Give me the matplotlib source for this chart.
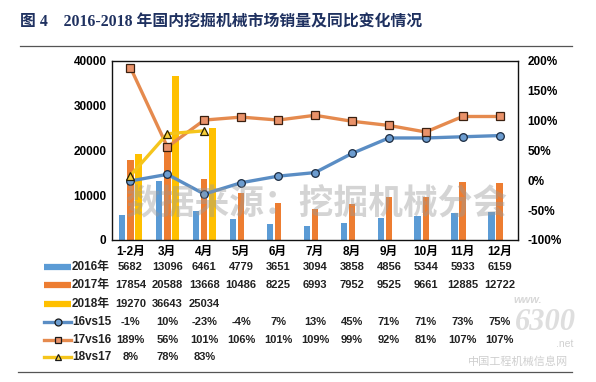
import matplotlib.pyplot as plt
import matplotlib.transforms as mtransforms
from matplotlib.lines import Line2D
import numpy as np

plt.rcParams['font.family'] = ['Liberation Sans', 'Noto Sans CJK SC']

# 数据
months = ['1-2月', '3月', '4月', '5月', '6月', '7月', '8月', '9月', '10月', '11月', '12月']
sales_2016 = [5682, 13096, 6461, 4779, 3651, 3094, 3858, 4856, 5344, 5933, 6159]
sales_2017 = [17854, 20588, 13668, 10486, 8225, 6993, 7952, 9525, 9661, 12885, 12722]
sales_2018 = [19270, 36643, 25034]
yoy_16vs15 = [-1, 10, -23, -4, 7, 13, 45, 71, 71, 73, 75]
yoy_17vs16 = [189, 56, 101, 106, 101, 109, 99, 92, 81, 107, 107]
yoy_18vs17 = [8, 78, 83]

c16 = '#5B9BD5'
c17 = '#ED7D31'
c18 = '#FFC000'
l16 = '#5A8DC4'
l17 = '#E58A4E'
l18 = '#F5C51C'

fig = plt.figure(figsize=(5.96, 3.82), dpi=100)
ax = fig.add_axes([112/596, 1-240/382, 406/596, 179/382])

x = np.arange(len(months))
w = 0.17
off = 0.22
ax.bar(x - off, sales_2016, w, color=c16, zorder=2)
ax.bar(x, sales_2017, w, color=c17, zorder=2)
ax.bar(x[:len(sales_2018)] + off, sales_2018, w, color=c18, zorder=2)

ax.set_xlim(-0.5, len(months) - 0.5)
ax.set_ylim(0, 40000)
ax.set_yticks([0, 10000, 20000, 30000, 40000])
ax.set_xticks(x)
ax.set_xticklabels(months, fontsize=8, fontweight='bold')
ax.tick_params(axis='both', length=0, labelsize=8.5, pad=4)
for t in ax.get_yticklabels():
    t.set_fontweight('bold')
for s in ax.spines.values():
    s.set_color('#111111')
    s.set_linewidth(1.0)

ax2 = ax.twinx()
ax2.set_ylim(-100, 200)
ax2.set_yticks([-100, -50, 0, 50, 100, 150, 200])
ax2.set_yticklabels([f'{v}%' for v in [-100, -50, 0, 50, 100, 150, 200]])
ax2.tick_params(axis='y', length=0, labelsize=8.5, pad=7)
for t in ax2.get_yticklabels():
    t.set_fontweight('bold')
for s in ax2.spines.values():
    s.set_visible(False)

ax2.plot(x, yoy_16vs15, color=l16, lw=2.4, marker='o', ms=5.5,
         mfc='#6C9CCF', mec='#1a2a40', mew=0.9, zorder=3)
ax2.plot(x, yoy_17vs16, color=l17, lw=2.4, marker='s', ms=5.5,
         mfc='#E9926A', mec='#3a2010', mew=0.9, zorder=3)
ax2.plot(x[:len(yoy_18vs17)], yoy_18vs17, color=l18, lw=2.4, marker='^', ms=5.5,
         mfc='#F7CF3A', mec='#2a2000', mew=0.9, zorder=3)

# 水印
fig.text(316/596, 1-205/382, '数据来源：挖掘机械分会', fontsize=25, fontweight='bold',
         color='#9a9a9a', alpha=0.42, ha='center', va='center', zorder=5)

# 标题和横线
fig.text(20/596, 1-22/382, '图 4　2016-2018 年国内挖掘机械市场销量及同比变化情况',
         family=['Liberation Serif', 'Noto Sans CJK SC'], fontsize=11.4,
         fontweight='bold', color='#1F3160', ha='left', va='center')
fig.add_artist(Line2D([20/596, 572/596], [1-46/382, 1-46/382], color='#555555', lw=0.9))
fig.add_artist(Line2D([18/596, 572/596], [1-372/382, 1-372/382], color='#555555', lw=0.9))

# 数据表
trans = mtransforms.blended_transform_factory(ax.transData, fig.transFigure)
rows = [
    ('2016年', sales_2016, c16, None, lambda v: f'{v}'),
    ('2017年', sales_2017, c17, None, lambda v: f'{v}'),
    ('2018年', sales_2018, c18, None, lambda v: f'{v}'),
    ('16vs15', yoy_16vs15, l16, ('o', '#6C9CCF'), lambda v: f'{v}%'),
    ('17vs16', yoy_17vs16, l17, ('s', '#E9926A'), lambda v: f'{v}%'),
    ('18vs17', yoy_18vs17, l18, ('^', '#F7CF3A'), lambda v: f'{v}%'),
]
row_y = [267, 285, 304, 322, 340, 357]
for (name, vals, col, mk, fmt), yy in zip(rows, row_y):
    fy = 1 - yy/382
    if mk is None:
        fig.add_artist(Line2D([44/596, 71/596], [fy, fy], color=col, lw=4.5,
                              solid_capstyle='butt'))
    else:
        fig.add_artist(Line2D([44/596, 71/596], [fy, fy], color=col, lw=2.4))
        fig.add_artist(Line2D([57.5/596], [fy], marker=mk[0], ms=5, mfc=mk[1],
                              mec='#1a1a1a', mew=0.9, lw=0))
    fig.text(72/596, fy, name, fontsize=8.5, fontweight='bold', color='#222222',
             ha='left', va='center')
    for i, v in enumerate(vals):
        fig.text(i, fy, fmt(v), transform=trans, fontsize=8, fontweight='bold',
                 color='#222222', ha='center', va='center')

# 6300 水印
fig.text(528/596, 1-300/382, 'www.', fontsize=8, fontweight='bold', color='#d8d8d8',
         ha='center', va='center', style='italic')
fig.text(545/596, 1-323/382, '6300', fontsize=22, fontweight='bold', color='#d6d6d6',
         ha='center', va='center', style='italic', family='Liberation Serif', alpha=0.8)
fig.text(565/596, 1-344/382, '.net', fontsize=7.5, color='#d0d0d0', ha='center', va='center')
fig.text(518/596, 1-362/382, '中国工程机械信息网', fontsize=8, color='#cfcfcf',
         ha='center', va='center')

fig.savefig('out.png', dpi=100)
